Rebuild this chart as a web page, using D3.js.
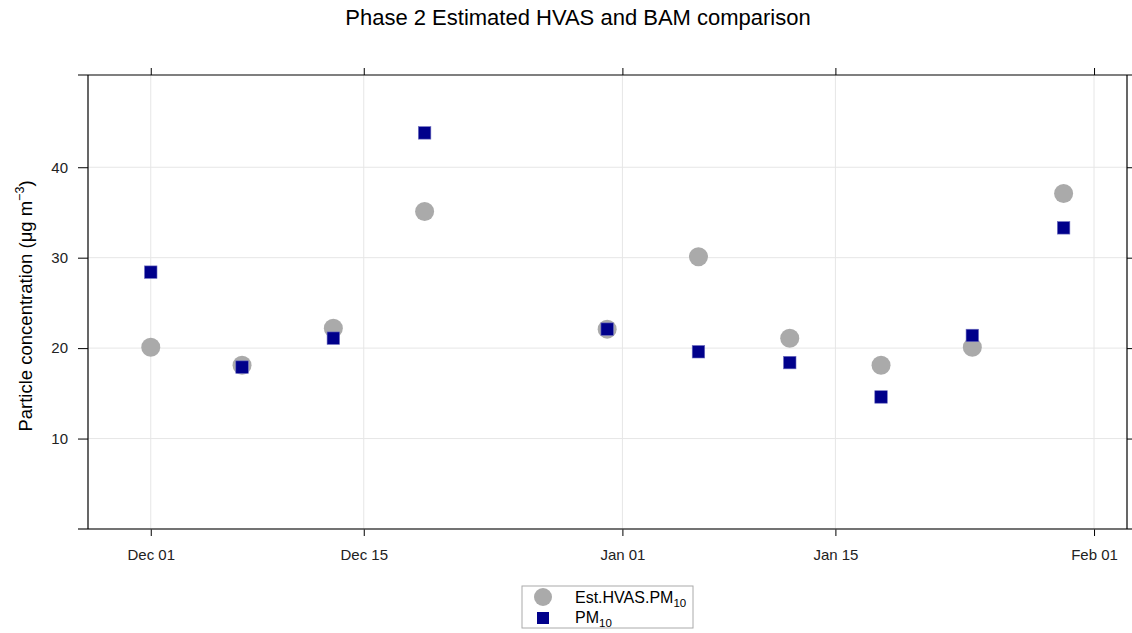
<!DOCTYPE html>
<html><head><meta charset="utf-8">
<script src="https://cdn.jsdelivr.net/npm/d3@7"></script>
<style>body{margin:0;background:#fff}svg{font-family:"Liberation Sans",Arial,sans-serif}</style>
</head><body><svg id="c" width="1132" height="633"></svg>
<script>
const dates = ["2023-12-01","2023-12-07","2023-12-13","2023-12-19","2023-12-31","2024-01-06","2024-01-12","2024-01-18","2024-01-24","2024-01-30"];
const estHVAS = [20.1, 18.1, 22.2, 35.1, 22.1, 30.1, 21.1, 18.1, 20.1, 37.1];
const pm10 = [28.4, 17.9, 21.1, 43.8, 22.1, 19.6, 18.4, 14.6, 21.4, 33.3];
const xTicks = ["2023-12-01","2023-12-15","2024-01-01","2024-01-15","2024-02-01"];
const xTickLabels = ["Dec 01","Dec 15","Jan 01","Jan 15","Feb 01"];
const yTicks = [10,20,30,40];

const parse = d3.utcParse("%Y-%m-%d");
const svg = d3.select("#c");
const L=88, R=1127, T=75, B=529;
const x = d3.scaleUtc().domain([new Date(Date.UTC(2023,10,26,21)), new Date(Date.UTC(2024,1,3,4))]).range([L,R]);
const y = d3.scaleLinear().domain([0,50.2]).range([B,T]);

// grid
const g = svg.append("g");
g.selectAll(".gx").data(xTicks).join("line").attr("x1",d=>x(parse(d))).attr("x2",d=>x(parse(d)))
 .attr("y1",T).attr("y2",B).attr("stroke","#e6e6e6").attr("stroke-width",1);
g.selectAll(".gy").data(yTicks).join("line").attr("y1",d=>y(d)).attr("y2",d=>y(d))
 .attr("x1",L).attr("x2",R).attr("stroke","#e6e6e6").attr("stroke-width",1);

// axes
const xb = svg.append("g").attr("transform",`translate(0,${B})`)
 .call(d3.axisBottom(x).tickValues(xTicks.map(parse)).tickFormat((d,i)=>xTickLabels[i]).tickSize(7).tickPadding(13));
const xt = svg.append("g").attr("transform",`translate(0,${T})`)
 .call(d3.axisTop(x).tickValues(xTicks.map(parse)).tickFormat("").tickSize(7));
const yl = svg.append("g").attr("transform",`translate(${L},0)`)
 .call(d3.axisLeft(y).tickValues(yTicks).tickSize(10).tickPadding(10));
const yr = svg.append("g").attr("transform",`translate(${R},0)`)
 .call(d3.axisRight(y).tickValues(yTicks).tickFormat("").tickSize(7));
[xb,xt,yl,yr].forEach(a=>{a.select(".domain").remove();a.selectAll("line").attr("stroke","#000");
  a.selectAll("text").attr("font-size",15).attr("fill","#222").attr("font-family","Liberation Sans, Arial, sans-serif");});
// frame lines
svg.append("line").attr("x1",78).attr("x2",1132).attr("y1",B).attr("y2",B).attr("stroke","#444").attr("stroke-width",1.3);
svg.append("line").attr("x1",78).attr("x2",1132).attr("y1",T).attr("y2",T).attr("stroke","#000").attr("stroke-width",1.2);
svg.append("line").attr("x1",L).attr("x2",L).attr("y1",T).attr("y2",B).attr("stroke","#000").attr("stroke-width",1.2);
svg.append("line").attr("x1",R).attr("x2",R).attr("y1",T).attr("y2",B).attr("stroke","#000").attr("stroke-width",1.2);

// points
svg.append("g").selectAll("circle").data(dates).join("circle")
 .attr("cx",d=>x(parse(d))).attr("cy",(d,i)=>y(estHVAS[i])).attr("r",9.5).attr("fill","#aaaaaa");
const s=12.5;
svg.append("g").selectAll("rect").data(dates).join("rect")
 .attr("x",d=>x(parse(d))-s/2).attr("y",(d,i)=>y(pm10[i])-s/2).attr("width",s).attr("height",s)
 .attr("fill","#00008b").attr("stroke","#6f6fc0").attr("stroke-width",0.6);

// title
svg.append("text").attr("x",578).attr("y",25).attr("text-anchor","middle").attr("font-size",22).attr("fill","#000")
 .text("Phase 2 Estimated HVAS and BAM comparison");
// y label
const yt = svg.append("text").attr("transform",`translate(32,${(T+B)/2+4}) rotate(-90)`).attr("text-anchor","middle")
 .attr("font-size",18.5).attr("fill","#000");
yt.append("tspan").text("Particle concentration (μg m");
yt.append("tspan").attr("dy",-8).attr("font-size",12.5).text("−3");
yt.append("tspan").attr("dy",8).text(")");

// legend
const lg = svg.append("g");
lg.append("rect").attr("x",522).attr("y",586).attr("width",171).attr("height",42).attr("fill","#fff").attr("stroke","#aaa").attr("stroke-width",1);
lg.append("circle").attr("cx",543).attr("cy",597).attr("r",9).attr("fill","#aaaaaa");
lg.append("rect").attr("x",537).attr("y",612).attr("width",12).attr("height",12).attr("fill","#00008b");
const t1 = lg.append("text").attr("x",575).attr("y",603).attr("font-size",16).attr("fill","#000");
t1.append("tspan").text("Est.HVAS.PM");
t1.append("tspan").attr("dy",4).attr("font-size",11.5).text("10");
const t2 = lg.append("text").attr("x",575).attr("y",623).attr("font-size",16).attr("fill","#000");
t2.append("tspan").text("PM");
t2.append("tspan").attr("dy",4).attr("font-size",11.5).text("10");
</script></body></html>
